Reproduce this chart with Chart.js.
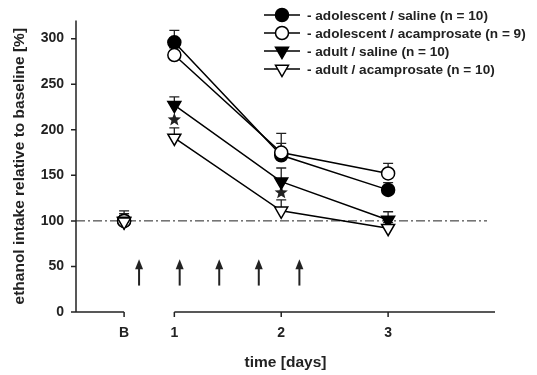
<!DOCTYPE html>
<html>
<head>
<meta charset="utf-8">
<script src="https://cdn.jsdelivr.net/npm/chart.js@4.4.0/dist/chart.umd.min.js"></script>
<style>
  body { margin: 0; background: #fff; }
</style>
</head>
<body>
<canvas id="chart" width="537" height="375"></canvas>
<script>
// x positions of the time points (B = baseline, then days 1-3)
const days = [0.53, 1, 2, 3];
const dayLabels = ['B', '1', '2', '3'];

const adolSaline = [100, 296, 172, 134];
const adolSalineErr = [8, 13, 13, 8];
const adolAcamp = [100, 282, 175, 152];
const adolAcampErr = [11, 8, 21, 11];
const adultSaline = [100, 227, 143, 101];
const adultSalineErr = [6, 9, 15, 9];
const adultAcamp = [99, 191, 111, 92];
const adultAcampErr = [4, 11, 12, 6];

const yTicks = [0, 50, 100, 150, 200, 250, 300];

// significance stars and injection arrows
const starDays = [1, 2];
const starValues = [211, 131];
const arrowDays = [0.67, 1.05, 1.42, 1.79, 2.17];
const arrowFrom = 29;
const arrowTo = 58;
const baseline = 100;

const FONT = "'Liberation Sans', Arial, sans-serif";

function toPoints(values) {
    return values.map((v, i) => ({ x: days[i], y: v }));
}

const series = [
    { label: '- adolescent / saline (n = 10)', data: adolSaline, err: adolSalineErr, style: 'circle', fill: '#000', rot: 0, r: 6.5 },
    { label: '- adolescent / acamprosate (n = 9)', data: adolAcamp, err: adolAcampErr, style: 'circle', fill: '#fff', rot: 0, r: 6.5 },
    { label: '- adult / saline (n = 10)', data: adultSaline, err: adultSalineErr, style: 'triangle', fill: '#000', rot: 180, r: 7.5 },
    { label: '- adult / acamprosate (n = 10)', data: adultAcamp, err: adultAcampErr, style: 'triangle', fill: '#fff', rot: 180, r: 7.5 }
];

const extras = {
    id: 'extras',
    beforeDatasetsDraw(chart) {
        const ctx = chart.ctx;
        const xs = chart.scales.x;
        const ys = chart.scales.y;
        const area = chart.chartArea;
        ctx.save();
        ctx.strokeStyle = '#222';
        ctx.lineWidth = 1.5;

        // y axis with ticks
        ctx.beginPath();
        ctx.moveTo(area.left, area.top);
        ctx.lineTo(area.left, area.bottom);
        yTicks.forEach(t => {
            const y = ys.getPixelForValue(t);
            ctx.moveTo(area.left - 5, y);
            ctx.lineTo(area.left, y);
        });
        ctx.stroke();

        // broken x axis
        const xb = xs.getPixelForValue(days[0]);
        const x1 = xs.getPixelForValue(days[1]);
        ctx.beginPath();
        ctx.moveTo(area.left, area.bottom);
        ctx.lineTo(xb, area.bottom);
        ctx.moveTo(x1, area.bottom);
        ctx.lineTo(area.right, area.bottom);
        days.forEach(d => {
            const x = xs.getPixelForValue(d);
            ctx.moveTo(x, area.bottom);
            ctx.lineTo(x, area.bottom + 5);
        });
        ctx.stroke();

        // baseline dash-dot line
        ctx.lineWidth = 1;
        ctx.setLineDash([9, 3, 2, 3]);
        const yb = ys.getPixelForValue(baseline);
        ctx.beginPath();
        ctx.moveTo(area.left, yb);
        ctx.lineTo(area.right - 8, yb);
        ctx.stroke();
        ctx.setLineDash([]);

        // error bars (upper whisker only)
        ctx.lineWidth = 1.3;
        series.forEach(s => {
            s.data.forEach((v, i) => {
                const x = xs.getPixelForValue(days[i]);
                const y0 = ys.getPixelForValue(v);
                const y1 = ys.getPixelForValue(v + s.err[i]);
                ctx.beginPath();
                ctx.moveTo(x, y0);
                ctx.lineTo(x, y1);
                ctx.moveTo(x - 5, y1);
                ctx.lineTo(x + 5, y1);
                ctx.stroke();
            });
        });

        // arrows
        ctx.fillStyle = '#222';
        ctx.lineWidth = 2;
        arrowDays.forEach(d => {
            const x = xs.getPixelForValue(d);
            const yA = ys.getPixelForValue(arrowFrom);
            const yB = ys.getPixelForValue(arrowTo);
            ctx.beginPath();
            ctx.moveTo(x, yA);
            ctx.lineTo(x, yB + 6);
            ctx.stroke();
            ctx.beginPath();
            ctx.moveTo(x, yB);
            ctx.lineTo(x - 4, yB + 10);
            ctx.lineTo(x + 4, yB + 10);
            ctx.closePath();
            ctx.fill();
        });

        // stars
        starDays.forEach((d, i) => {
            const cx = xs.getPixelForValue(d);
            const cy = ys.getPixelForValue(starValues[i]);
            ctx.beginPath();
            for (let k = 0; k < 10; k++) {
                const r = k % 2 === 0 ? 7 : 3;
                const a = -Math.PI / 2 + k * Math.PI / 5;
                const px = cx + r * Math.cos(a);
                const py = cy + r * Math.sin(a);
                if (k === 0) ctx.moveTo(px, py); else ctx.lineTo(px, py);
            }
            ctx.closePath();
            ctx.fill();
        });
        ctx.restore();
    },
    afterDraw(chart) {
        // legend: line with marker, then text
        const ctx = chart.ctx;
        ctx.save();
        ctx.font = 'bold 13.6px ' + FONT;
        ctx.textBaseline = 'middle';
        series.forEach((s, i) => {
            const y = 15 + i * 18;
            ctx.strokeStyle = '#000';
            ctx.lineWidth = 1.5;
            ctx.beginPath();
            ctx.moveTo(264, y);
            ctx.lineTo(300, y);
            ctx.stroke();
            ctx.fillStyle = s.fill;
            Chart.helpers.drawPoint(ctx, { pointStyle: s.style, radius: s.r, rotation: s.rot, borderWidth: 1.5 }, 282, y);
            ctx.fillStyle = '#222';
            ctx.fillText(s.label, 307, y + 1);
        });
        ctx.restore();
    }
};

new Chart(document.getElementById('chart'), {
    type: 'line',
    data: {
        datasets: series.map((s, i) => ({
            label: s.label,
            data: toPoints(s.data),
            order: series.length - i,
            borderColor: '#000',
            borderWidth: 1.5,
            pointStyle: s.style,
            pointRadius: s.r,
            pointRotation: s.rot,
            pointBackgroundColor: s.fill,
            pointBorderColor: '#000',
            pointBorderWidth: 1.5,
            segment: {
                borderColor: c => c.p0DataIndex === 0 ? 'rgba(0,0,0,0)' : '#000'
            }
        }))
    },
    plugins: [extras],
    options: {
        responsive: false,
        animation: false,
        layout: { padding: { top: 10, right: 42, left: 0, bottom: 0 } },
        plugins: {
            legend: { display: false },
            tooltip: { enabled: false }
        },
        scales: {
            x: {
                type: 'linear',
                min: 0.08,
                max: 4.0,
                grid: { display: false, drawTicks: false },
                border: { display: false },
                afterBuildTicks: s => { s.ticks = days.map(d => ({ value: d })); },
                afterFit: s => { s.height = 63; },
                ticks: {
                    padding: 13,
                    color: '#222',
                    font: { family: FONT, size: 14, weight: 'bold' },
                    maxRotation: 0,
                    autoSkip: false,
                    callback: (v) => dayLabels[days.indexOf(v)]
                },
                title: {
                    display: true,
                    text: 'time [days]',
                    color: '#222',
                    font: { family: FONT, size: 15.5, weight: 'bold' },
                    padding: { top: 3, bottom: 3 }
                }
            },
            y: {
                min: 0,
                max: 320,
                grid: { display: false, drawTicks: false },
                border: { display: false },
                afterBuildTicks: s => { s.ticks = yTicks.map(v => ({ value: v })); },
                afterFit: s => { s.width = 76; },
                ticks: {
                    padding: 12,
                    color: '#222',
                    font: { family: FONT, size: 14, weight: 'bold' }
                },
                title: {
                    display: true,
                    text: 'ethanol intake relative to baseline [%]',
                    color: '#222',
                    font: { family: FONT, size: 15.5, weight: 'bold' },
                    padding: { top: 10, bottom: 4 }
                }
            }
        }
    }
});
</script>
</body>
</html>
